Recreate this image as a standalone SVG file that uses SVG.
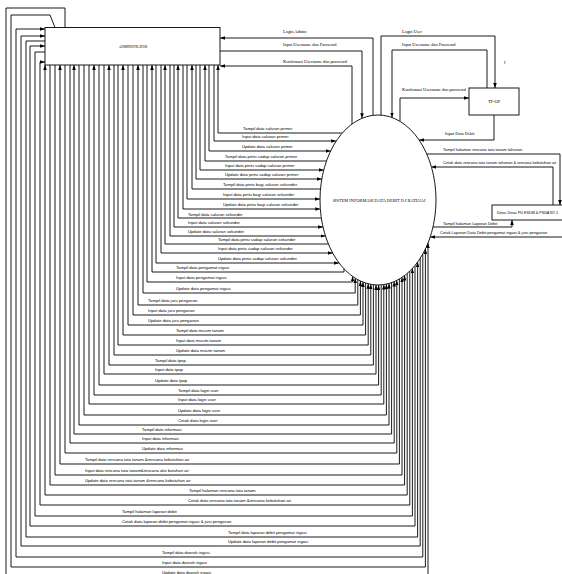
<svg xmlns="http://www.w3.org/2000/svg" width="562" height="574" viewBox="0 0 562 574">
  <defs>
    <style>
      .box { fill: #fff; stroke: #000; stroke-width: 0.9; }
      .ln { fill: none; stroke: #000; stroke-width: 0.9; }
      .arr { marker-end: url(#ah); }
      .lbl { font-family: "Liberation Sans", Arial, sans-serif; font-size: 4.2px; fill: #000; }
      .srf { font-family: "Liberation Serif", "Times New Roman", serif; font-size: 4.4px; fill: #000; }
    </style>
    <marker id="ah" markerWidth="5" markerHeight="3.6" refX="5" refY="1.8" orient="auto" markerUnits="userSpaceOnUse">
      <path d="M0,0 L5,1.8 L0,3.6 z" fill="#000"/>
    </marker>
  </defs>
  <rect width="562" height="574" fill="#fff"/>

  <!-- data flows -->
  <g id="connectors">
    <!-- admin login exchange -->
    <path class="ln arr" d="M373,115.3 V38 H220"/>
    <path class="ln arr" d="M220,51 H362 V118.3"/>
    <path class="ln arr" d="M352,124 V66 H220"/>
    <!-- TP-OP exchange -->
    <path class="ln arr" d="M381,115 V36 H495 V88"/>
    <path class="ln arr" d="M487,88 V50 H392 V117.5"/>
    <path class="ln arr" d="M400,121.3 V98 H469"/>
    <path class="ln arr" d="M494,115 V140 H419.1"/>
    <!-- Dinas exchange -->
    <path class="ln arr" d="M426.8,154 H560 V205"/>
    <path class="ln arr" d="M553,205 V167 H431.4"/>
    <path class="ln arr" d="M433,227 H512 V220"/>
    <path class="ln arr" d="M562,237 H430.2"/>

    <!-- administrator <-> system, left edge of process -->
    <path class="ln arr" d="M342.3,133 H218 V65"/>
    <path class="ln arr" d="M214,65 V141 H336.2"/>
    <path class="ln arr" d="M209,65 V151 H330.6"/>
    <path class="ln arr" d="M326.5,161 H205 V65"/>
    <path class="ln arr" d="M200,65 V170 H323.7"/>
    <path class="ln arr" d="M196,65 V179 H321.8"/>
    <path class="ln arr" d="M320.5,189 H192 V65"/>
    <path class="ln arr" d="M187,65 V199 H320"/>
    <path class="ln arr" d="M183,65 V209 H320.3"/>
    <path class="ln arr" d="M321.3,218 H178 V65"/>
    <path class="ln arr" d="M174,65 V227 H323"/>
    <path class="ln arr" d="M170,65 V236 H325.5"/>
    <path class="ln arr" d="M328.4,244 H165 V65"/>
    <path class="ln arr" d="M161,65 V253 H332.7"/>
    <path class="ln arr" d="M156,65 V263 H339.1"/>

    <!-- administrator <-> system, bottom of process -->
    <path class="ln arr" d="M344,268.9 V272 H152 V65"/>
    <path class="ln arr" d="M147,65 V282 H352.6 V276.4"/>
    <path class="ln arr" d="M143,65 V293 H355.2 V278.2"/>
    <path class="ln arr" d="M357.8,279.7 V305 H138 V65"/>
    <path class="ln arr" d="M133,65 V315 H360.4 V281"/>
    <path class="ln arr" d="M128,65 V325 H363 V282.1"/>
    <path class="ln arr" d="M365.6,283 V335 H123 V65"/>
    <path class="ln arr" d="M118,65 V345 H368.2 V283.8"/>
    <path class="ln arr" d="M114,65 V355 H370.8 V284.3"/>
    <path class="ln arr" d="M373.4,284.7 V365 H109 V65"/>
    <path class="ln arr" d="M104,65 V374 H376 V285"/>
    <path class="ln arr" d="M99,65 V385 H378.6 V285"/>
    <path class="ln arr" d="M381.2,284.9 V395 H94 V65"/>
    <path class="ln arr" d="M89,65 V404 H383.8 V284.6"/>
    <path class="ln arr" d="M84,65 V415 H386.4 V284.1"/>
    <path class="ln arr" d="M79,65 V425 H389 V283.5"/>
    <path class="ln arr" d="M391.6,282.6 V434 H74 V65"/>
    <path class="ln arr" d="M70,65 V443 H394.2 V281.6"/>
    <path class="ln arr" d="M65,65 V453 H396.8 V280.4"/>
    <path class="ln arr" d="M399.4,279 V464 H60 V65"/>
    <path class="ln arr" d="M55,65 V475 H402 V277.4"/>
    <path class="ln arr" d="M50,65 V485 H404.6 V275.5"/>
    <path class="ln arr" d="M407.2,273.4 V495 H45 V65"/>
    <path class="ln arr" d="M409.8,271.1 V505 H40 V62 H45"/>
    <path class="ln arr" d="M45,52 H35 V516 H412.4 V268.4"/>
    <path class="ln arr" d="M415,265.5 V526 H30 V46 H45"/>
    <path class="ln arr" d="M45,41 H26 V537 H417.6 V262.1"/>
    <path class="ln arr" d="M420.2,258.3 V546 H21 V36 H45"/>
    <path class="ln arr" d="M422.8,254 V557 H16 V29 H45"/>
    <path class="ln arr" d="M55,27.5 L50,15 H11 V567 H425.4 V249"/>
    <path class="ln arr" d="M65,27.5 V8 H6 V577 H428 V243.1"/>
  </g>

  <!-- flow labels -->
  <g id="flow-labels">
    <text class="srf" x="283" y="33">Login Admin</text>
    <text class="srf" x="283" y="46">Input Username dan Password</text>
    <text class="srf" x="283" y="63">Konfirmasi Username dan password</text>
    <text class="srf" x="402" y="33">Login User</text>
    <text class="srf" x="402" y="46">Input Username dan Password</text>
    <text class="srf" x="402" y="91">Konfirmasi Username dan password</text>
    <text class="srf" x="445" y="135">Input Data Debit</text>
    <text class="srf" x="504" y="64">I</text>

    <text class="lbl" x="443" y="151" style="font-size:4px">Tampil halaman rencana tata tanam tahunan</text>
    <text class="lbl" x="443" y="164" style="font-size:3.95px">Cetak data rencana tata tanam tahunan &amp; rencana kebutuhan air</text>
    <text class="lbl" x="443" y="225" style="font-size:4px">Tampil halaman Laporan Debit</text>
    <text class="lbl" x="440" y="234" style="font-size:4px">Cetak Laporan Data Debit pengamat irigasi &amp; juru pengairan</text>

    <text class="lbl" x="243" y="130">Tampil data saluran primer</text>
    <text class="lbl" x="242" y="138">Input data saluran primer</text>
    <text class="lbl" x="242" y="148">Update data saluran primer</text>
    <text class="lbl" x="225" y="158">Tampil data pintu sadap saluran primer</text>
    <text class="lbl" x="225" y="167">Input data pintu sadap saluran primer</text>
    <text class="lbl" x="225" y="176">Update data pintu sadap saluran primer</text>
    <text class="lbl" x="223" y="186">Tampil data pintu bagi saluran sekunder</text>
    <text class="lbl" x="223" y="196">Input data pintu bagi saluran sekunder</text>
    <text class="lbl" x="223" y="206">Update data pintu bagi saluran sekunder</text>
    <text class="lbl" x="188" y="215.5">Tampil data saluran sekunder</text>
    <text class="lbl" x="188" y="224">Input data saluran sekunder</text>
    <text class="lbl" x="188" y="233">Update data saluran sekunder</text>
    <text class="lbl" x="218" y="241">Tampil data pintu sadap saluran sekunder</text>
    <text class="lbl" x="218" y="250">Input data pintu sadap saluran sekunder</text>
    <text class="lbl" x="218" y="260">Update data pintu sadap saluran sekunder</text>
    <text class="lbl" x="176" y="269">Tampil data pengamat irigasi</text>
    <text class="lbl" x="176" y="279">Input data pengamat irigasi</text>
    <text class="lbl" x="176" y="290">Update data pengamat irigasi</text>
    <text class="lbl" x="148" y="302">Tampil data juru pengairan</text>
    <text class="lbl" x="148" y="312">Input data juru pengairan</text>
    <text class="lbl" x="148" y="322">Update data juru pengairan</text>
    <text class="lbl" x="176" y="332">Tampil data musim tanam</text>
    <text class="lbl" x="176" y="342">Input data musim tanam</text>
    <text class="lbl" x="176" y="352">Update data musim tanam</text>
    <text class="lbl" x="155" y="362">Tampil data tpop</text>
    <text class="lbl" x="155" y="371">Input data tpop</text>
    <text class="lbl" x="155" y="382">Update data tpop</text>
    <text class="lbl" x="178" y="392">Tampil data login user</text>
    <text class="lbl" x="178" y="401">Input data login user</text>
    <text class="lbl" x="178" y="412">Update data login user</text>
    <text class="lbl" x="178" y="422">Cetak data login user</text>
    <text class="lbl" x="142" y="431">Tampil data informasi</text>
    <text class="lbl" x="142" y="440">Input data informasi</text>
    <text class="lbl" x="142" y="450">Update data informasi</text>
    <text class="lbl" x="85" y="461">Tampil data rencana tata tanam &amp;rencana kebutuhan air</text>
    <text class="lbl" x="85" y="472">Input data rencana tata tanam&amp;rencana ake butuhan air</text>
    <text class="lbl" x="85" y="482">Update data rencana tata tanam &amp;rencana kebutuhan air</text>
    <text class="lbl" x="189" y="492">Tampil halaman rencana tata tanam</text>
    <text class="lbl" x="188" y="502">Cetak data rencana tata tanam &amp;rencana kebutuhan air</text>
    <text class="lbl" x="122" y="513">Tampil halaman laporan debit</text>
    <text class="lbl" x="122" y="523">Cetak data laporan debit pengamat irigasi &amp; juru pengairan</text>
    <text class="lbl" x="228" y="534">Tampil data laporan debit pengamat irigasi</text>
    <text class="lbl" x="228" y="543">Update data laporan debit pengamat irigasi</text>
    <text class="lbl" x="162" y="554">Tampil data daerah irigasi</text>
    <text class="lbl" x="162" y="564">Input data daerah irigasi</text>
    <text class="lbl" x="162" y="573.5">Update data daerah irigasi</text>
  </g>

  <!-- external entities and process -->
  <g id="administrator">
    <rect class="box" x="45" y="27.5" width="175" height="37.5"/>
    <text class="srf" x="133" y="48" text-anchor="middle" style="font-size:3.5px">ADMINISTRATOR</text>
  </g>
  <g id="tp-op">
    <rect class="box" x="469" y="88" width="50" height="27"/>
    <text class="srf" x="494" y="102.5" text-anchor="middle">TP-OP</text>
  </g>
  <g id="dinas">
    <rect class="box" x="492" y="205" width="80" height="15"/>
    <text class="lbl" x="497" y="214" style="font-size:3.7px">Dinas Dinas PU ESDM &amp; PSDA NT-1</text>
  </g>
  <g id="sistem">
    <ellipse class="box" cx="378" cy="200" rx="58" ry="85"/>
    <text class="srf" x="379" y="202" text-anchor="middle">SISTEM INFORMASI DATA DEBIT D.I BATUJAI</text>
  </g>
</svg>
